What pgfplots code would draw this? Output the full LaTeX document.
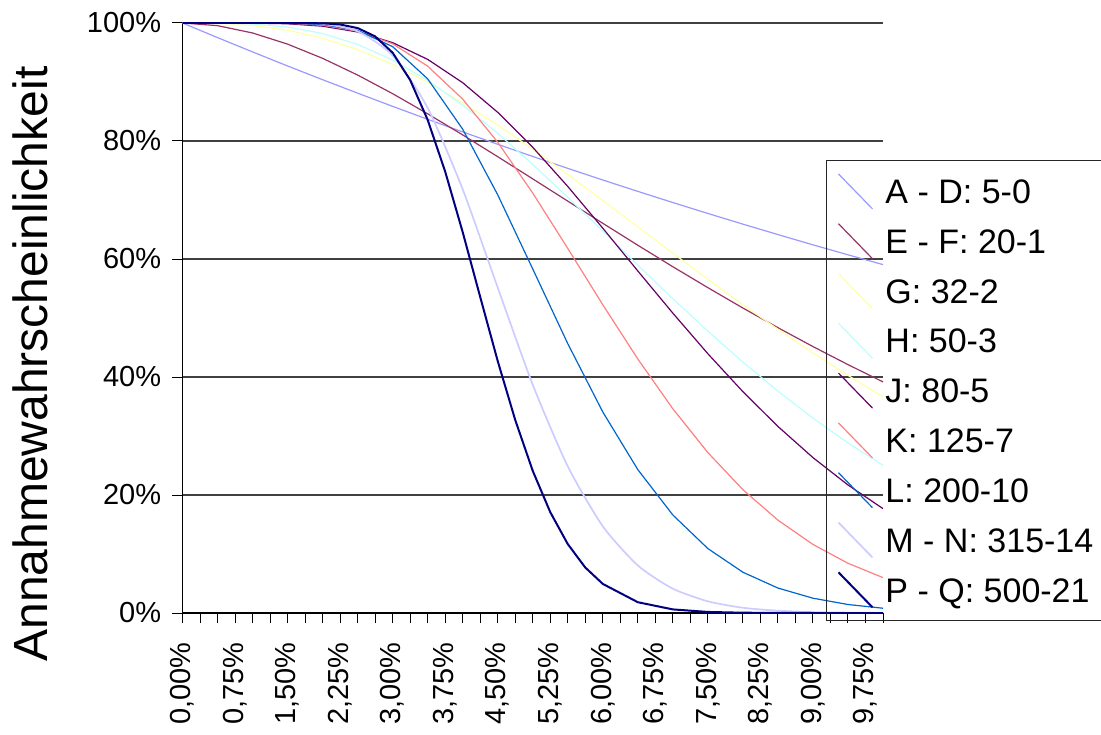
\documentclass[border=0pt]{standalone}
\usepackage{fontspec}
\setmainfont{Liberation Sans}
\usepackage{pgfplots}
\pgfplotsset{compat=1.18}

\definecolor{cAD}{HTML}{9999FF}
\definecolor{cEF}{HTML}{993366}
\definecolor{cG}{HTML}{FFFFA8}
\definecolor{cH}{HTML}{BBFFFF}
\definecolor{cJ}{HTML}{660066}
\definecolor{cK}{HTML}{FF8080}
\definecolor{cL}{HTML}{0066CC}
\definecolor{cMN}{HTML}{CCCCFF}
\definecolor{cPQ}{HTML}{000080}

\begin{document}
\begin{tikzpicture}
% 1 px of the reference = 0.5pt
\useasboundingbox (-91.25pt,-60.5pt) rectangle (459.25pt,306.5pt);
\begin{axis}[
    scale only axis,
    width=350.25pt, height=295pt,
    xmin=0, xmax=10, ymin=0, ymax=100,
    axis x line=bottom, axis y line=left,
    axis line style={-, black, line width=0.6pt},
    xtick={0,0.75,...,9.75},
    minor xtick={0,0.25,...,10},
    ytick={0,20,...,100},
    tick align=outside,
    major tick length=5pt, minor tick length=5pt,
    tick style={black, line width=0.5pt},
    ymajorgrids,
    grid style={black!75, line width=0.6pt},
    /pgf/number format/assume math mode=true,
    xticklabel={\pgfmathprintnumber[fixed,fixed zerofill,precision=2,use comma]{\tick}\%},
    yticklabel={\pgfmathprintnumber{\tick}\%},
    tick label style={font=\fontsize{14.5pt}{17pt}\selectfont},
    xticklabel style={inner sep=0pt, yshift=-9.5pt, rotate=90, anchor=east},
    yticklabel style={inner sep=0pt, xshift=-5.5pt},
    ylabel={Annahmewahrscheinlichkeit},
    ylabel style={at={(axis description cs:-0.217,0.422)}, anchor=center, inner sep=0pt,
        font=\fontsize{24pt}{28pt}\selectfont},
    every axis plot/.append style={no markers, line join=round},
    legend cell align=left,
    legend image code/.code={
        \path[draw=none, fill=none] (0pt,0pt) -- (19pt,0pt);
        \draw[#1] (2pt,8.75pt) -- (19pt,-8.75pt);
    },
    legend style={
        at={(rel axis cs:0.9186,0.7678)}, anchor=north west,
        draw=black!85, line width=0.5pt, fill=none,
        font=\fontsize{17pt}{20pt}\selectfont,
        inner xsep=4pt, inner ysep=3pt,
        row sep=0pt, column sep=6pt,
        nodes={inner sep=0pt, text height=18.55pt, text depth=6.35pt},
    },
]
% A - D: n=5, c=0
\addplot[cAD, line width=0.6pt] coordinates {
 (0,100) (0.5,97.53) (1,95.10) (1.5,92.72) (2,90.39) (2.5,88.11) (3,85.87)
 (3.5,83.68) (4,81.54) (4.5,79.44) (5,77.38) (5.5,75.36) (6,73.39) (6.5,71.46)
 (7,69.57) (7.5,67.72) (8,65.91) (8.5,64.14) (9,62.40) (9.5,60.71) (10,59.05)
};
\addlegendentry{A - D: 5-0}
% E - F: n=20, c=1
\addplot[cEF, line width=0.6pt] coordinates {
 (0,100) (0.5,99.55) (1,98.31) (1.5,96.42) (2,94.01) (2.5,91.18) (3,88.02)
 (3.5,84.61) (4,81.03) (4.5,77.34) (5,73.58) (5.5,69.81) (6,66.05) (6.5,62.33)
 (7,58.69) (7.5,55.14) (8,51.69) (8.5,48.36) (9,45.16) (9.5,42.10) (10,39.17)
};
\addlegendentry{E - F: 20-1}
% G: n=32, c=2
\addplot[cG, line width=0.6pt] coordinates {
 (0,100) (0.5,99.95) (1,99.60) (1.5,98.79) (2,97.42) (2.5,95.48) (3,92.97)
 (3.5,89.96) (4,86.51) (4.5,82.70) (5,78.61) (5.5,74.32) (6,69.91) (6.5,65.44)
 (7,60.98) (7.5,56.57) (8,52.26) (8.5,48.09) (9,44.08) (9.5,40.28) (10,36.67)
};
\addlegendentry{G: 32-2}
% H: n=50, c=3
\addplot[cH, line width=0.6pt] coordinates {
 (0,100) (0.5,99.99) (1,99.84) (1.5,99.33) (2,98.22) (2.5,96.38) (3,93.72)
 (3.5,90.27) (4,86.09) (4.5,81.30) (5,76.04) (5.5,70.46) (6,64.73) (6.5,58.97)
 (7,53.27) (7.5,47.77) (8,42.53) (8.5,37.60) (9,33.03) (9.5,28.84) (10,25.03)
};
\addlegendentry{H: 50-3}
% J: n=80, c=5
\addplot[cJ, line width=0.6pt] coordinates {
 (0,100) (0.5,100) (1,99.98) (1.5,99.87) (2,99.46) (2.5,98.48) (3,96.67)
 (3.5,93.83) (4,89.88) (4.5,84.86) (5,78.93) (5.5,72.29) (6,65.22) (6.5,57.97)
 (7,50.82) (7.5,43.94) (8,37.51) (8.5,31.62) (9,26.34) (9.5,21.70) (10,17.69)
};
\addlegendentry{J: 80-5}
% K: n=125, c=7
\addplot[cK, line width=0.6pt] coordinates {
 (0,100) (0.5,100) (1,100) (1.5,99.94) (2,99.62) (2.5,98.63) (3,96.48)
 (3.5,92.69) (4,87.09) (4.5,79.79) (5,71.17) (5.5,61.79) (6,52.24) (6.5,43.05)
 (7,34.61) (7.5,27.19) (8,20.90) (8.5,15.74) (9,11.62) (9.5,8.43) (10,6.00)
};
\addlegendentry{K: 125-7}
% L: n=200, c=10
\addplot[cL, line width=0.6pt] coordinates {
 (0,100) (0.5,100) (1,100) (1.5,99.98) (2,99.75) (2.5,98.74) (3,95.99)
 (3.5,90.53) (4,82.00) (4.5,70.88) (5,58.31) (5.5,45.65) (6,34.07) (6.5,24.30)
 (7,16.61) (7.5,10.92) (8,6.91) (8.5,4.23) (9,2.51) (9.5,1.44) (10,0.81)
};
\addlegendentry{L: 200-10}
% M - N: n=315, c=14
\addplot[cMN, line width=0.85pt, smooth, tension=0.4] coordinates {
 (0,100) (0.5,100) (1,100) (1.5,99.99) (2,99.85) (2.5,98.59) (3,94.49)
 (3.5,85.61) (4,71.81) (4.5,55.15) (5,38.68) (5.5,24.85) (6,14.70) (6.5,8.06)
 (7,4.12) (7.5,1.98) (8,0.89) (8.5,0.39) (9,0.16) (9.5,0.06) (10,0.02)
};
\addlegendentry{M - N: 315-14}
% P - Q: n=500, c=21
\addplot[cPQ, line width=1pt] coordinates {
 (0,100) (1,100) (1.5,100) (2,99.95) (2.25,99.75) (2.5,99.14) (2.75,97.73)
 (3,94.96) (3.25,90.33) (3.5,83.58) (3.75,74.81) (4,64.55) (4.25,53.56)
 (4.5,42.70) (4.75,32.71) (5,24.09) (5.25,17.09) (5.5,11.68) (5.75,7.71)
 (6,4.93) (6.5,1.83) (7,0.61) (7.5,0.18) (8,0.05) (9,0.00) (10,0.00)
};
\addlegendentry{P - Q: 500-21}
\end{axis}
\end{tikzpicture}
\end{document}
